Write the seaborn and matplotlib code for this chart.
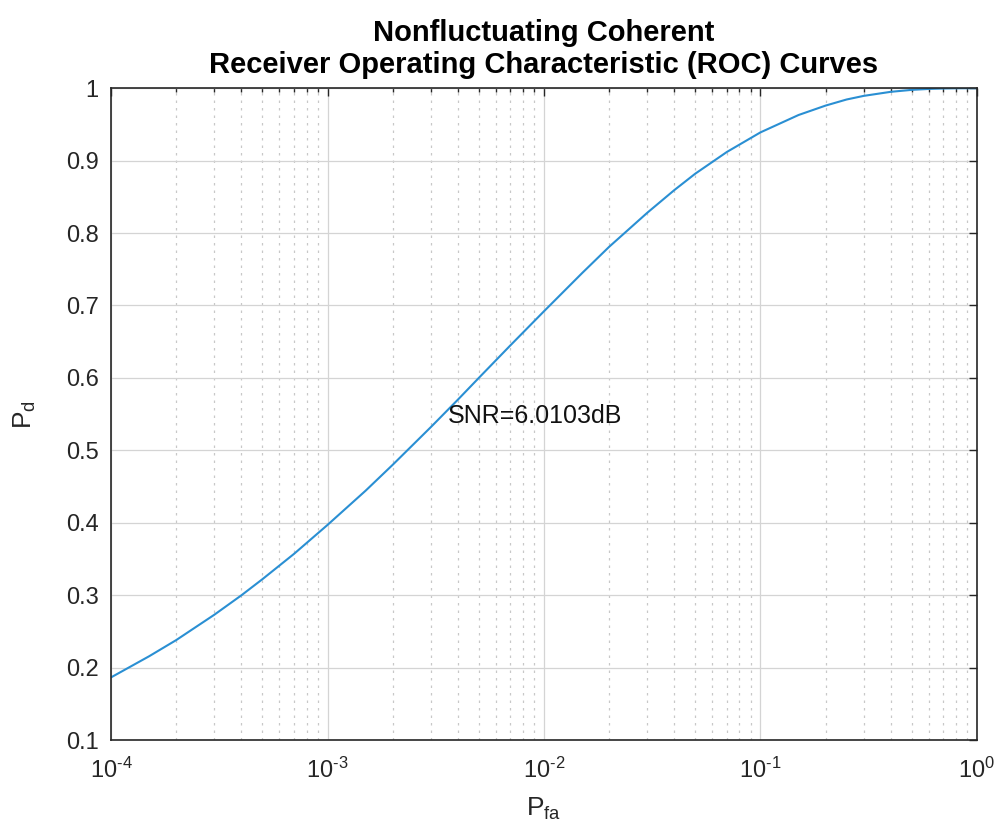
import math

import matplotlib
import matplotlib.pyplot as plt
import matplotlib.ticker as mticker
import pandas as pd
import seaborn as sns

# values
pfa = [1e-4, 1.5e-4, 2e-4, 3e-4, 4e-4, 5e-4, 7e-4, 1e-3, 1.5e-3, 2e-3, 3e-3, 4e-3,
       5e-3, 7e-3, 1e-2, 1.5e-2, 2e-2, 3e-2, 4e-2, 5e-2, 7e-2, 0.1, 0.15, 0.2,
       0.25, 0.3, 0.4, 0.5, 0.6, 0.7, 0.8, 1.0]
pd_vals = [0.1865, 0.2157, 0.238, 0.273, 0.2998, 0.322, 0.357, 0.397, 0.4443, 0.480,
           0.532, 0.5699, 0.600, 0.645, 0.692, 0.7447, 0.781, 0.828, 0.8593, 0.882,
           0.912, 0.939, 0.963, 0.976, 0.9844, 0.9894, 0.9950, 0.9977, 0.9990,
           0.9996, 0.9999, 1.0]
title_lines = ["Nonfluctuating Coherent", "Receiver Operating Characteristic (ROC) Curves"]
label_text = "SNR=6.0103dB"
label_pos = (3.6e-3, 0.547)

sns.set_style("white")
plt.rcParams["font.family"] = ["Liberation Sans", "DejaVu Sans"]
plt.rcParams["mathtext.fontset"] = "custom"
plt.rcParams["mathtext.rm"] = "Liberation Sans"
plt.rcParams["mathtext.it"] = "Liberation Sans"
plt.rcParams["axes.unicode_minus"] = False

axcol = "#262626"
data = pd.DataFrame({"Pfa": pfa, "Pd": pd_vals})


def decade_label(v, pos):
    e = round(math.log10(v))
    s = str(e).replace("-", "\u2010")
    return "10$^{\\mathregular{%s}}$" % s


fig = plt.figure(figsize=(10.03, 8.4), dpi=100)
ax = fig.add_axes([0.1107, 0.119, 0.8633, 0.776])
sns.lineplot(data, x="Pfa", y="Pd", ax=ax, color="#2a8fd3", linewidth=1.5)
ax.set_xscale("log")
ax.set_xlim(1e-4, 1)
ax.set_ylim(0.1, 1)
ax.set_yticks([0.1, 0.2, 0.3, 0.4, 0.5, 0.6, 0.7, 0.8, 0.9, 1.0])
ax.yaxis.set_major_formatter(mticker.FuncFormatter(lambda v, p: f"{v:g}"))
ax.set_xticks([1e-4, 1e-3, 1e-2, 1e-1, 1])
ax.xaxis.set_major_formatter(mticker.FuncFormatter(decade_label))
ax.xaxis.set_minor_locator(mticker.LogLocator(base=10, subs=range(2, 10)))
ax.xaxis.set_minor_formatter(mticker.NullFormatter())

ax.grid(True, which="major", color="#d4d4d4", linewidth=0.9)
ax.grid(True, which="minor", axis="x", color="#c8c8c8", linestyle=(0, (2, 4)), linewidth=0.9)
ax.set_axisbelow(True)

for s in ax.spines.values():
    s.set_color(axcol)
    s.set_linewidth(1.2)
ax.tick_params(which="both", direction="in", top=True, right=True, colors=axcol,
               labelsize=17)
ax.tick_params(axis="y", pad=9)
ax.tick_params(axis="x", pad=13)
ax.tick_params(which="major", length=6, width=1)
ax.tick_params(which="minor", length=3, width=1)

ax.set_xlabel(r"P$_{\mathregular{fa}}$", fontsize=19, color=axcol, labelpad=9)
ax.set_ylabel(r"P$_{\mathregular{d}}$", fontsize=19, color=axcol, labelpad=20)
ax.set_title("\n".join(title_lines), fontsize=21, fontweight="bold",
             color="black", linespacing=1.2, pad=11)
ax.text(label_pos[0], label_pos[1], label_text, fontsize=18, color="#111111",
        va="center", ha="left")

fig.savefig("out.png", dpi=100)
